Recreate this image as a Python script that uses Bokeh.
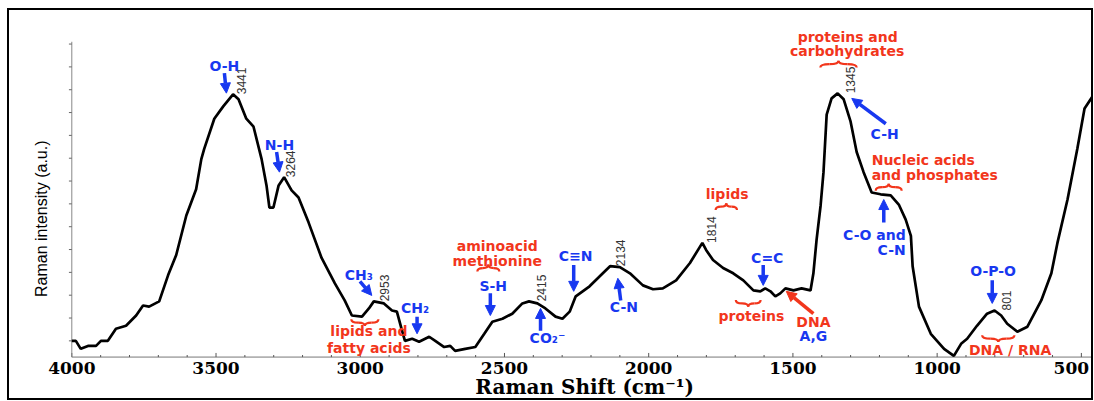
import numpy as np
from bokeh.plotting import figure
from bokeh.models import Range1d, Arrow, NormalHead, ColumnDataSource
from bokeh.core.properties import value
from bokeh.embed import file_html
from bokeh.resources import INLINE

# ---------------- data ----------------
wavenumber = [4000, 3986, 3969, 3944, 3916, 3899, 3875, 3847, 3812, 3777, 3753, 3732, 3697,
              3666, 3638, 3603, 3569, 3551, 3541, 3506, 3475, 3441, 3422, 3395, 3370, 3342,
              3325, 3315, 3301, 3283, 3264, 3238, 3214, 3179, 3134, 3088, 3054, 3029, 2994,
              2970, 2953, 2918, 2890, 2873, 2855, 2845, 2820, 2796, 2761, 2740, 2709, 2688,
              2671, 2636, 2601, 2570, 2542, 2507, 2473, 2438, 2415, 2386, 2358, 2323, 2299,
              2274, 2253, 2205, 2159, 2134, 2100, 2065, 2020, 1985, 1951, 1905, 1857, 1814,
              1801, 1777, 1742, 1707, 1672, 1637, 1613, 1596, 1578, 1561, 1544, 1526, 1498,
              1470, 1439, 1429, 1418, 1404, 1394, 1383, 1366, 1345, 1324, 1300, 1279, 1255,
              1227, 1196, 1161, 1133, 1109, 1091, 1085, 1063, 1022, 976, 942, 917, 896, 862,
              827, 801, 778, 757, 722, 687, 639, 604, 583, 548, 514, 489, 461, 444]
intensity = [1.00, 1.00, 0.65, 0.78, 0.78, 1.00, 1.00, 1.53, 1.66, 2.11, 2.55, 2.50, 2.73,
             3.88, 4.76, 6.49, 7.64, 8.96, 9.41, 10.73, 11.27, 11.80, 11.58, 10.73, 10.38, 8.96,
             7.81, 6.84, 6.84, 7.81, 8.17, 7.59, 7.28, 6.18, 4.63, 3.52, 2.77, 2.11, 2.06,
             2.42, 2.73, 2.64, 2.33, 2.28, 1.44, 1.00, 1.09, 0.96, 1.18, 1.00, 0.73, 0.78,
             0.56, 0.65, 0.73, 1.31, 1.84, 1.97, 2.19, 2.64, 2.73, 2.64, 2.42, 2.06, 1.97,
             2.28, 2.95, 3.39, 3.96, 4.27, 4.23, 3.96, 3.43, 3.26, 3.30, 3.65, 4.41, 5.29,
             4.98, 4.54, 4.19, 3.96, 3.65, 3.21, 3.17, 3.30, 3.17, 2.95, 3.08, 3.30, 3.21,
             3.30, 3.21, 3.96, 5.42, 6.93, 8.39, 10.91, 11.62, 11.84, 11.58, 10.60, 9.27, 8.39,
             7.50, 7.42, 7.37, 6.97, 6.31, 5.60, 4.27, 2.50, 1.31, 0.65, 0.34, 0.87, 1.09, 1.66,
             2.19, 2.33, 2.11, 1.75, 1.40, 1.62, 2.77, 3.96, 5.29, 7.19, 9.41, 11.18, 11.71, 12.81]

x_major_ticks = [500, 1000, 1500, 2000, 2500, 3000, 3500, 4000]
x_tick_labels = ["500", "1000", "1500", "2000", "2500", "3000", "3500", "4000"]
x_minor_ticks = [v for v in range(500, 4001, 100) if v % 500 != 0]
y_ticks = list(range(1, 15))

peak_positions = [3441, 3264, 2953, 2415, 2134, 1814, 1345, 801]
peak_labels = ["3441", "3264", "2953", "2415", "2134", "1814", "1345", "801"]

x_title = "Raman Shift (cm\u207b\u00b9)"
y_title = "Raman intensity (a.u.)"

# annotation texts
blue_texts = ["O-H", "N-H", "CH\u2083", "CH\u2082", "S-H", "CO\u2082\u207b", "C\u2261N", "C-N",
              "C=C", "A,G", "C-H", "O-P-O"]
red_texts = ["lipids and", "fatty acids", "aminoacid", "methionine", "lipids", "proteins",
             "DNA", "proteins and", "carbohydrates", "DNA / RNA"]
red_left_texts = ["Nucleic acids", "and phosphates"]
blue_right_texts = ["C-O and", "C-N"]

# ---------------- positions of annotations (data units) ----------------
blue_x = [3471, 3280, 3005, 2810, 2539, 2351, 2253, 2086, 1589, 1429, 1182, 806]
blue_y = [13.04, 9.58, 3.88, 2.46, 3.39, 1.13, 4.72, 2.50, 4.63, 1.22, 10.07, 4.05]
red_x = [2970, 2970, 2525, 2525, 1728, 1644, 1429, 1310, 1312, 747]
red_y = [1.44, 0.69, 5.16, 4.50, 7.42, 2.11, 1.84, 14.32, 13.70, 0.62]
red_left_x = [1227, 1227]
red_left_y = [8.92, 8.26]
blue_right_x = [1109, 1109]
blue_right_y = [5.65, 4.96]

blue_arrows = dict(x0=[3471, 3290, 3001, 2803, 2549, 2375, 2260, 2097, 1603, 1178, 1185, 809],
                   y0=[12.73, 9.27, 3.61, 2.06, 3.08, 1.44, 4.32, 2.77, 4.32, 10.51, 6.18, 3.65],
                   x1=[3464, 3280, 2960, 2803, 2549, 2375, 2260, 2107, 1603, 1296, 1185, 809],
                   y1=[11.85, 8.39, 2.99, 1.31, 2.11, 2.42, 3.17, 3.74, 3.43, 11.62, 7.19, 2.64])
red_arrows = dict(x0=[1429], y0=[2.19], x1=[1523], y1=[3.17])

# braces: centre x, centre y, half width (cm-1), direction (+1 tip up, -1 tip down)
brace_cx = [2984, 2556, 1731, 1655, 1342, 1168, 788]
brace_cy = [1.80, 4.19, 6.88, 2.64, 13.12, 7.73, 1.10]
brace_hw = [47, 38, 37, 43, 63, 45, 56]
brace_dir = [-1, 1, 1, -1, 1, 1, -1]
brace_h = 0.30

peak_xoff = [8, 6, 11, 13, 10, 9, 13, 12]
tick_label_xoff = [-10, 0, 0, 0, 0, 0, 0, 0]

BLUE = "#1838f0"
RED = "#f2361c"
FS = "14px"

Y0 = 0.29          # level of the x axis line
X_END = 451
tick_label_y = -0.19
x_title_pos = (2222, -1.02)
y_title_pos = (4104, 6.35)

p = figure(width=1086, height=392, x_range=Range1d(4216, X_END), y_range=Range1d(-1.70, 15.47),
           output_backend="svg", toolbar_location=None,
           x_axis_location=None, y_axis_location=None,
           min_border_left=0, min_border_right=0, min_border_top=0, min_border_bottom=0,
           styles={"border": "2px solid black", "margin-left": "7px", "margin-top": "8px"})
p.outline_line_color = None
p.xgrid.visible = False
p.ygrid.visible = False
p.background_fill_color = "white"
p.border_fill_color = "white"

# x axis: line, ticks, labels
p.segment(x0=[4000], y0=[Y0], x1=[X_END], y1=[Y0], line_color="#777777", line_width=1)
p.segment(x0=x_major_ticks, y0=[Y0] * len(x_major_ticks), x1=x_major_ticks,
          y1=[Y0 + 0.18] * len(x_major_ticks), line_color="#555555", line_width=1)
p.segment(x0=x_minor_ticks, y0=[Y0] * len(x_minor_ticks), x1=x_minor_ticks,
          y1=[Y0 + 0.09] * len(x_minor_ticks), line_color="#555555", line_width=1)
p.text(x=x_major_ticks, y=[tick_label_y] * len(x_major_ticks), text=x_tick_labels,
       x_offset=tick_label_xoff,
       text_font=value("DejaVu Serif"), text_font_style="bold", text_font_size="17px",
       text_color="black", text_align="center", text_baseline="middle")
p.text(x=[x_title_pos[0]], y=[x_title_pos[1]], text=[x_title], text_font=value("DejaVu Serif"),
       text_font_style="bold", text_font_size="20px", text_color="black",
       text_align="center", text_baseline="middle")

# y axis: spine, unlabeled ticks, title
p.segment(x0=[4000], y0=[Y0], x1=[4000], y1=[14.1], line_color="#888888", line_width=1)
p.segment(x0=[4000] * len(y_ticks), y0=y_ticks, x1=[4010] * len(y_ticks), y1=y_ticks,
          line_color="#666666", line_width=1)
p.text(x=[y_title_pos[0]], y=[y_title_pos[1]], text=[y_title], angle=np.pi / 2,
       text_font=value("Liberation Sans"), text_font_size="16px", text_color="black",
       text_align="center", text_baseline="middle")

# spectrum
p.line(wavenumber, intensity, line_color="black", line_width=2.7)

# peak numbers (rotated)
xs_rev = np.array(wavenumber[::-1], dtype=float)
ys_rev = np.array(intensity[::-1], dtype=float)
peak_y = np.interp(peak_positions, xs_rev, ys_rev)
p.text(x=peak_positions, y=list(peak_y), text=peak_labels, angle=np.pi / 2,
       x_offset=peak_xoff, text_font=value("Liberation Sans"), text_font_size="12px",
       text_color="#333333", text_align="left", text_baseline="middle")

font = value("DejaVu Sans")
p.text(x=blue_x, y=blue_y, text=blue_texts, text_font=font, text_font_style="bold",
       text_font_size=FS, text_color=BLUE, text_align="center", text_baseline="middle")
p.text(x=blue_right_x, y=blue_right_y, text=blue_right_texts, text_font=font,
       text_font_style="bold", text_font_size=FS, text_color=BLUE, text_align="right",
       text_baseline="middle")
p.text(x=red_x, y=red_y, text=red_texts, text_font=font, text_font_style="bold",
       text_font_size=FS, text_color=RED, text_align="center", text_baseline="middle")
p.text(x=red_left_x, y=red_left_y, text=red_left_texts, text_font=font,
       text_font_style="bold", text_font_size=FS, text_color=RED, text_align="left",
       text_baseline="middle")

# arrows
p.add_layout(Arrow(end=NormalHead(size=10, fill_color=BLUE, line_color=BLUE),
                   source=ColumnDataSource(blue_arrows), x_start="x0", y_start="y0",
                   x_end="x1", y_end="y1", line_color=BLUE, line_width=3.5))
p.add_layout(Arrow(end=NormalHead(size=10, fill_color=RED, line_color=RED),
                   source=ColumnDataSource(red_arrows), x_start="x0", y_start="y0",
                   x_end="x1", y_end="y1", line_color=RED, line_width=3.5))

# braces from quadratic curves
qx0, qy0, qx1, qy1, qcx, qcy = [], [], [], [], [], []
for cx, cy, hw, d in zip(brace_cx, brace_cy, brace_hw, brace_dir):
    h = brace_h / 2.0
    for s in (-1, 1):
        qx0.append(cx + s * hw); qy0.append(cy - d * h)
        qcx.append(cx + s * hw); qcy.append(cy)
        qx1.append(cx + s * hw / 2.0); qy1.append(cy)
        qx0.append(cx + s * hw / 2.0); qy0.append(cy)
        qcx.append(cx); qcy.append(cy)
        qx1.append(cx); qy1.append(cy + d * h)
p.quadratic(x0=qx0, y0=qy0, x1=qx1, y1=qy1, cx=qcx, cy=qcy, line_color=RED, line_width=2.2)

open("out.html", "w").write(file_html(p, INLINE))
